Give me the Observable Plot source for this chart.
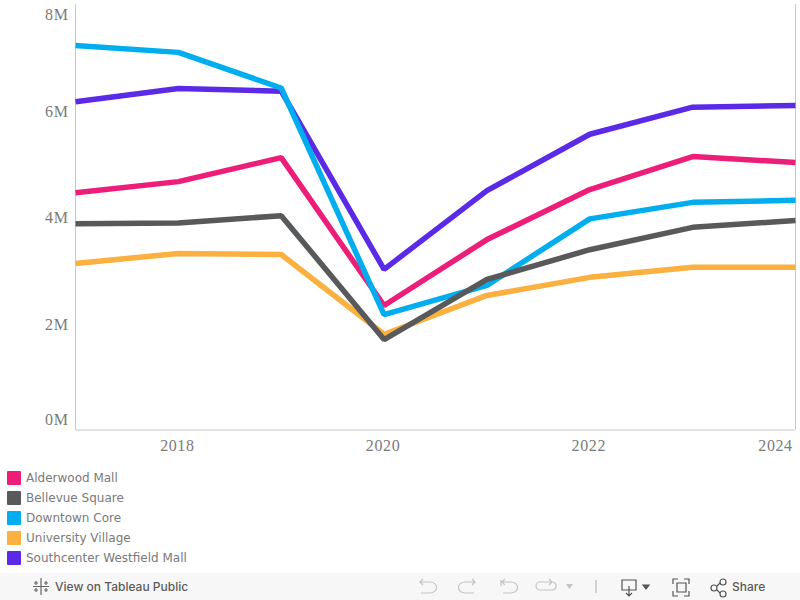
<!DOCTYPE html>
<html><head><meta charset="utf-8">
<script src="https://cdn.jsdelivr.net/npm/d3@7"></script>
<script src="https://cdn.jsdelivr.net/npm/@observablehq/plot@0.6"></script>
<style>
html,body{margin:0;padding:0;background:#fff;width:800px;height:600px;overflow:hidden}
#chart{position:absolute;left:0;top:0}
#legend{position:absolute;left:7px;top:468px;font:12px "DejaVu Sans",sans-serif;color:#7a7a7a}
.li{display:flex;align-items:center;height:20px}
.sw{width:14px;height:14px;margin-right:5px;border-radius:1px}
#bar{position:absolute;left:0;top:573px;width:800px;height:27px;background:#f7f7f7;font:500 12px "Inter","Liberation Sans",sans-serif;color:#5c5c5c}
#bar span{position:absolute;top:6px}
#bar svg{position:absolute;left:0;top:0}
</style></head><body>
<div id="chart"></div><div id="legend"></div>
<div id="bar"><span style="left:55px">View on Tableau Public</span><span style="left:732px">Share</span>
<svg width="800" height="27" fill="none" stroke-width="1.2">
<g stroke="#666"><path d="M41 5v6M41 16v6M33 13.500h6M43 13.500h6M36 8v4M34 10h4M46 8v4M44 10h4M36 15v4M34 17h4M46 15v4M44 17h4M41 11v5M39 13.500h4"/></g>
<g stroke="#c4c4c4"><path d="M420 9h10a6 5 0 0 1 0 11h-9M423 6l-3 3 3 3"/><path d="M475 9h-10a6 5 0 0 0 0 11h9M472 6l3 3-3 3"/><path d="M501 7v6M501 9h10a6 5 0 0 1 0 11h-8M505 6l-3 3 3 3"/><path d="M553 9h-13a3.500 3.500 0 0 0 0 8h11a3.500 3.500 0 0 0 2-8M549 6l3 3-3 3"/></g>
<path d="M566 11h7l-3.500 5z" fill="#c4c4c4"/><path d="M596 7v13" stroke="#bbb"/>
<g stroke="#555"><path d="M622 7h14v10h-14zM629 13v10M626 20l3 3 3-3"/><path d="M643 12h6l-3 4z" fill="#555"/><path d="M673 11v-5h5M684 6h5v5M689 18v5h-5M678 23h-5v-5M677 10h9v9h-9z"/><circle cx="714" cy="15" r="3"/><circle cx="723" cy="9" r="3"/><circle cx="723" cy="21" r="3"/><path d="M717 13l3-3M717 17l3 3"/></g>
</svg></div>
<script>
const years = [2017,2018,2019,2020,2021,2022,2023,2024];
const bellevue = [3.88,3.89,4.03,1.70,2.83,3.39,3.81,3.94];
const university = [3.13,3.32,3.30,1.80,2.53,2.87,3.06,3.06];
const alderwood = [4.46,4.67,5.12,2.34,3.58,4.52,5.14,5.03];
const southcenter = [6.17,6.42,6.37,3.02,4.50,5.56,6.07,6.10];
const downtown = [7.23,7.10,6.43,2.17,2.72,3.97,4.28,4.32];
const names = ["Alderwood Mall","Bellevue Square","Downtown Core","University Village","Southcenter Westfield Mall"];
const colors = ["#ed1e79","#58595b","#00aeef","#fbb040","#5a2ae6"];
const drawOrder = [
  ["University Village",university],["Southcenter Westfield Mall",southcenter],
  ["Alderwood Mall",alderwood],["Downtown Core",downtown],["Bellevue Square",bellevue]];
const rows = drawOrder.flatMap(([name,vals])=>vals.map((v,i)=>({name,year:years[i],value:v*1e6})));
const fmt = d=>`${d/1e6}M`;
const axisStyle = {tickSize:0,label:null,fontSize:16,fill:"#7a7a7a"};
const plot = Plot.plot({
  width:800,height:460,marginLeft:75,marginRight:5,marginTop:4,marginBottom:30.500,
  style:{fontFamily:'"Liberation Serif",serif',background:"transparent",letterSpacing:"0.6px"},
  x:{domain:[2017,2024],label:null},
  y:{domain:[0,8e6],label:null},
  color:{domain:names,range:colors},
  marks:[
    Plot.ruleX([2017,2024],{stroke:"#c8c8c8"}),
    Plot.ruleY([0],{stroke:"#c8c8c8"}),
    ...drawOrder.map(([n])=>
      Plot.line(rows.filter(d=>d.name===n),{x:"year",y:"value",stroke:"name",strokeWidth:5.500,strokeLinejoin:"miter",strokeLinecap:"butt"})),
    Plot.axisY([2e6,4e6,6e6],{...axisStyle,tickFormat:fmt,tickPadding:7,dy:1}),
    Plot.axisY([0],{...axisStyle,tickFormat:fmt,tickPadding:7,dy:-10}),
    Plot.axisY([8e6],{...axisStyle,tickFormat:fmt,tickPadding:7,dy:10}),
    Plot.axisX([2018,2020,2022],{...axisStyle,tickFormat:d=>String(d),tickPadding:10,dx:-1}),
    Plot.axisX([2024],{...axisStyle,tickFormat:d=>String(d),tickPadding:10,dx:-20})
  ]
});
document.getElementById("chart").append(plot);
const lg=document.getElementById("legend");
names.forEach((n,i)=>{const r=document.createElement("div");r.className="li";
  const s=document.createElement("div");s.className="sw";s.style.background=colors[i];
  r.append(s,document.createTextNode(n));lg.append(r);});
</script></body></html>
